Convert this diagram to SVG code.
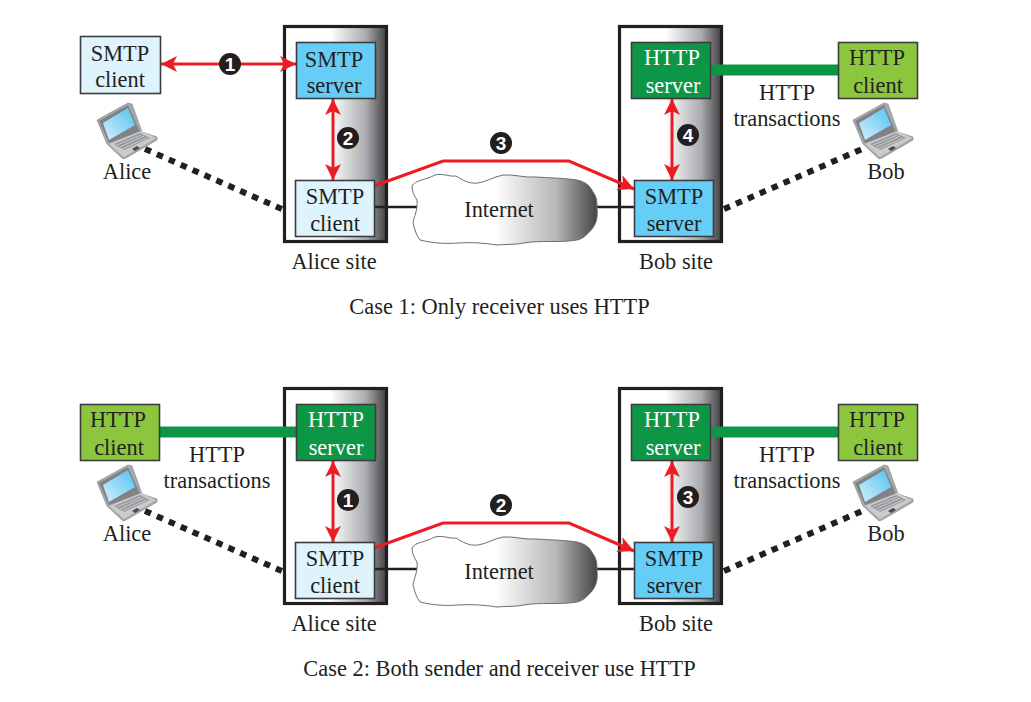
<svg xmlns="http://www.w3.org/2000/svg" xmlns:xlink="http://www.w3.org/1999/xlink" width="1031" height="702" viewBox="0 0 1031 702">
<style>
text{font-family:"Liberation Serif","Times New Roman",serif;font-size:22.4px;fill:#231f20;text-anchor:middle}
text.w{fill:#fff}
text.n{font-family:"Liberation Sans",Arial,sans-serif;font-weight:bold;font-size:19px;fill:#fff}
.site{fill:url(#sg);stroke:#231f20;stroke-width:3.2}
.box{stroke:#3c3c3e;stroke-width:1.6}
.lb{fill:#dff3fd}.bl{fill:#66cdf6}.dg{fill:#0e9647}.lg{fill:#8cc63f}
.red{fill:none;stroke:#ed1c24;stroke-width:3;marker-end:url(#a);marker-start:url(#as)}
.redl{fill:none;stroke:#ed1c24;stroke-width:3;marker-end:url(#a)}
.dot{fill:none;stroke:#231f20;stroke-width:6;stroke-dasharray:6.5 6.5}
.wire{fill:none;stroke:#231f20;stroke-width:2.4}
.bar{fill:none;stroke:#0e9647;stroke-width:11}
.cloud{fill:url(#cg);stroke:#6d6e70;stroke-width:1}
.badge{fill:#231f20}
</style>
<defs>
<linearGradient id="sg" x1="0" y1="0" x2="1" y2="0"><stop offset="0" stop-color="#fff"/><stop offset=".45" stop-color="#fff"/><stop offset=".8" stop-color="#a9abae"/><stop offset="1" stop-color="#414042"/></linearGradient>
<linearGradient id="cg" x1="0" y1="0" x2="1" y2="0"><stop offset="0" stop-color="#fff"/><stop offset=".45" stop-color="#fff"/><stop offset=".78" stop-color="#b5b6b8"/><stop offset="1" stop-color="#444446"/></linearGradient>
<linearGradient id="sc" x1="0" y1="1" x2="1" y2="0"><stop offset="0" stop-color="#d6effb"/><stop offset="1" stop-color="#4fc3f0"/></linearGradient>
<marker id="a" markerUnits="userSpaceOnUse" markerWidth="18" markerHeight="18" refX="16" refY="8" orient="auto"><path d="M0 0L16 8L0 16L4 8Z" fill="#ed1c24"/></marker>
<marker id="as" markerUnits="userSpaceOnUse" markerWidth="18" markerHeight="18" refX="0" refY="8" orient="auto"><path d="M16 0L0 8L16 16L12 8Z" fill="#ed1c24"/></marker>
<symbol id="lap" viewBox="0 0 62 58" width="62" height="58" overflow="visible">
<path d="M1 18L32 1L36 2L46 30L61 35L61 38L30 56L27 57L11 42Z" fill="#a7a9ac" stroke="#808285" stroke-width=".6"/>
<path d="M3 19L32 3L44 30L13 41Z" fill="#808285"/>
<path d="M7 21L32 6L39 23L13 38Z" fill="url(#sc)"/>
<path d="M13 42L45 29L60 36L28 55Z" fill="#c9cbcd"/>
<path d="M18 42L44 31L54 36L28 48Z" fill="#97999c"/>
<path d="M21 43L45 33M24 45L48 34M26 47L51 36" stroke="#d5d6d8" stroke-width=".8" fill="none"/>
<path d="M36 47L41 44L44 46L39 49Z" fill="#4a4b4d"/>
</symbol>
<path id="cl" d="M412 186C415 180 426 180 435 175C443 173 450 177 456 176C463 180 468 184 478 183C486 182 493 177 503 175C514 174 524 178 536 177C550 178 564 178 577 180C586 182 590 186 593 192C597 197 597 203 597 208C598 218 596 224 592 229C586 236 582 239 577 240C560 243 540 240 524 243C514 245 506 244 497 245C484 243 472 242 458 243C444 244 432 243 420 240C416 235 415 230 413 223C414 216 418 210 417 200C414 196 412 191 412 186Z"/>
</defs>
<rect width="1031" height="702" fill="#fff"/>

<g id="case1">
<g id="alice-site-1"><rect class="site" x="284.500" y="26.500" width="102" height="215"/><text x="334" y="269">Alice site</text></g>
<g id="bob-site-1"><rect class="site" x="619.500" y="26.500" width="102" height="215"/><text x="676" y="269">Bob site</text></g>
<g id="connectors-1">
<path class="wire" d="M374 207H420M590 207H634"/>
<path class="bar" d="M710 70H838"/>
<path class="dot" d="M145 149L284 210"/>
<path class="dot" d="M724 209L862 149"/>
<path class="red" d="M161 64H296"/>
<path class="red" d="M333 99V180"/>
<path class="red" d="M672 99V180"/>
<path class="redl" d="M374 186L443 161H569L634 189"/>
</g>
<g id="internet-1"><use href="#cl" class="cloud"/><text x="499" y="217">Internet</text></g>
<g id="smtp-client-a1"><rect class="box lb" x="80.500" y="36.500" width="80" height="57"/><text x="120" y="61">SMTP</text><text x="120" y="87">client</text></g>
<g id="smtp-server-a1"><rect class="box bl" x="296.500" y="42.500" width="79" height="56"/><text x="334" y="67">SMTP</text><text x="334" y="93">server</text></g>
<g id="smtp-client-b1"><rect class="box lb" x="295.500" y="180.500" width="79" height="56"/><text x="335" y="204">SMTP</text><text x="335" y="231">client</text></g>
<g id="http-server-1"><rect class="box dg" x="631.500" y="42.500" width="79" height="56"/><text class="w" x="672" y="65">HTTP</text><text class="w" x="673" y="93">server</text></g>
<g id="smtp-server-b1"><rect class="box bl" x="634.500" y="180.500" width="79" height="56"/><text x="674" y="204">SMTP</text><text x="674" y="231">server</text></g>
<g id="http-client-1"><rect class="box lg" x="838.500" y="42.500" width="79" height="56"/><text x="877" y="65">HTTP</text><text x="878" y="93">client</text></g>
<g id="http-label-1"><text x="787" y="100">HTTP</text><text x="787" y="126">transactions</text></g>
<g id="alice-1"><use href="#lap" x="96" y="102"/><text x="127" y="179">Alice</text></g>
<g id="bob-1"><use href="#lap" x="852" y="102"/><text x="886" y="179">Bob</text></g>
<g id="b1-1"><circle class="badge" cx="230" cy="64" r="11"/><text class="n" x="230" y="71">1</text></g>
<g id="b1-2"><circle class="badge" cx="348" cy="138" r="11"/><text class="n" x="348" y="145">2</text></g>
<g id="b1-3"><circle class="badge" cx="501" cy="143" r="11"/><text class="n" x="501" y="150">3</text></g>
<g id="b1-4"><circle class="badge" cx="688" cy="135" r="11"/><text class="n" x="688" y="142">4</text></g>
<text x="499.500" y="314">Case 1: Only receiver uses HTTP</text>
</g>

<g id="case2" transform="translate(0 362)">
<g id="alice-site-2"><rect class="site" x="284.500" y="26.500" width="102" height="215"/><text x="334" y="269">Alice site</text></g>
<g id="bob-site-2"><rect class="site" x="619.500" y="26.500" width="102" height="215"/><text x="676" y="269">Bob site</text></g>
<g id="connectors-2">
<path class="wire" d="M374 207H420M590 207H634"/>
<path class="bar" d="M160 70H296M710 70H838"/>
<path class="dot" d="M145 149L284 210"/>
<path class="dot" d="M724 209L862 149"/>
<path class="red" d="M333 99V180"/>
<path class="red" d="M672 99V180"/>
<path class="redl" d="M374 186L443 161H569L634 189"/>
</g>
<g id="internet-2"><use href="#cl" class="cloud"/><text x="499" y="217">Internet</text></g>
<g id="http-client-a2"><rect class="box lg" x="80.500" y="42.500" width="79" height="56"/><text x="118" y="65">HTTP</text><text x="119" y="93">client</text></g>
<g id="http-server-a2"><rect class="box dg" x="296.500" y="42.500" width="79" height="56"/><text class="w" x="336" y="65">HTTP</text><text class="w" x="336" y="93">server</text></g>
<g id="smtp-client-b2"><rect class="box lb" x="295.500" y="180.500" width="79" height="56"/><text x="335" y="204">SMTP</text><text x="335" y="231">client</text></g>
<g id="http-server-2"><rect class="box dg" x="631.500" y="42.500" width="79" height="56"/><text class="w" x="672" y="65">HTTP</text><text class="w" x="673" y="93">server</text></g>
<g id="smtp-server-b2"><rect class="box bl" x="634.500" y="180.500" width="79" height="56"/><text x="674" y="204">SMTP</text><text x="674" y="231">server</text></g>
<g id="http-client-2"><rect class="box lg" x="838.500" y="42.500" width="79" height="56"/><text x="877" y="65">HTTP</text><text x="878" y="93">client</text></g>
<g id="http-label-a2"><text x="217" y="100">HTTP</text><text x="217" y="126">transactions</text></g>
<g id="http-label-2"><text x="787" y="100">HTTP</text><text x="787" y="126">transactions</text></g>
<g id="alice-2"><use href="#lap" x="96" y="102"/><text x="127" y="179">Alice</text></g>
<g id="bob-2"><use href="#lap" x="852" y="102"/><text x="886" y="179">Bob</text></g>
<g id="b2-1"><circle class="badge" cx="348" cy="138" r="11"/><text class="n" x="348" y="145">1</text></g>
<g id="b2-2"><circle class="badge" cx="501" cy="143" r="11"/><text class="n" x="501" y="150">2</text></g>
<g id="b2-3"><circle class="badge" cx="688" cy="135" r="11"/><text class="n" x="688" y="142">3</text></g>
<text x="499.500" y="314">Case 2: Both sender and receiver use HTTP</text>
</g>
</svg>
